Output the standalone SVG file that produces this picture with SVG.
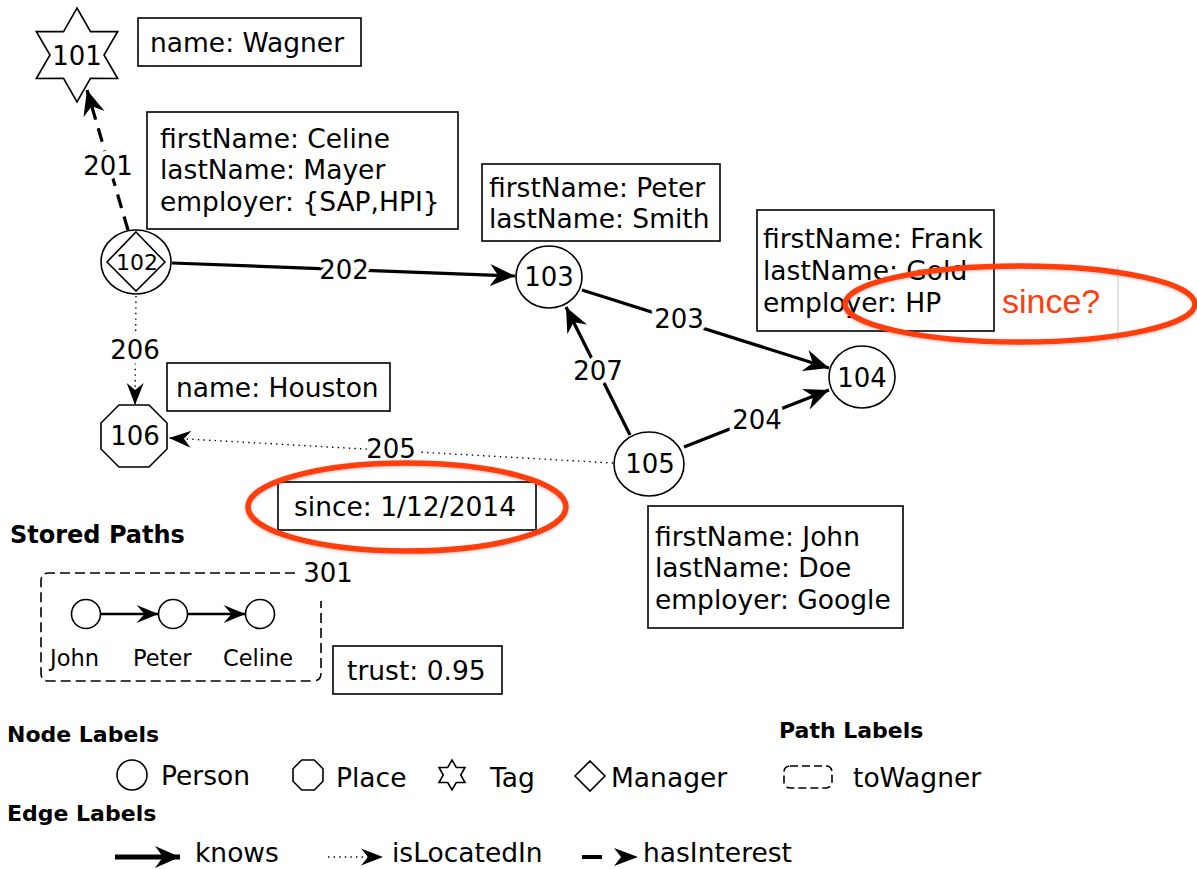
<svg xmlns="http://www.w3.org/2000/svg" width="1197" height="869" viewBox="0 0 1197 869">
  <style>
    text { font-family: "DejaVu Sans", sans-serif; fill: #000; }
    .prop { font-size: 26.5px; }
    .nid { font-size: 26px; text-anchor: middle; }
    .elab { font-size: 26px; text-anchor: middle; stroke: #fff; stroke-width: 9px; paint-order: stroke; stroke-linejoin: round; }
    .hdr { font-size: 22px; font-weight: bold; }
    .box { fill: #fff; stroke: #000; stroke-width: 1.6; }
    .node { fill: #fff; stroke: #000; stroke-width: 1.6; }
    .knows { fill: none; stroke: #000; stroke-width: 3.2; marker-end: url(#head); }
    .loc { fill: none; stroke: #000; stroke-width: 1.4; stroke-dasharray: 1.4 4.2; marker-end: url(#headSmall); }
    .interest { fill: none; stroke: #000; stroke-width: 3.2; stroke-dasharray: 14 9; marker-end: url(#head); }
    .mark { fill: none; stroke: #FF3D0D; stroke-width: 5.5; filter: url(#soft); }
  </style>
  <defs>
    <marker id="head" markerUnits="userSpaceOnUse" markerWidth="26" markerHeight="24" viewBox="-25 -12 26 24" refX="0" refY="0" orient="auto">
      <path d="M0,0 L-25,-11 L-17,0 L-25,11 Z" fill="#000"/>
    </marker>
    <marker id="headSmall" markerUnits="userSpaceOnUse" markerWidth="24" markerHeight="20" viewBox="-23 -10 24 20" refX="0" refY="0" orient="auto">
      <path d="M0,0 L-22,-8.5 L-15,0 L-22,8.5 Z" fill="#000"/>
    </marker>
    <marker id="headPath" markerUnits="userSpaceOnUse" markerWidth="24" markerHeight="20" viewBox="-23 -10 24 20" refX="0" refY="0" orient="auto">
      <path d="M0,0 L-22,-9 L-14,0 L-22,9 Z" fill="#000"/>
    </marker>
    <filter id="soft" x="-10%" y="-20%" width="120%" height="140%">
      <feDropShadow dx="0" dy="1" stdDeviation="1.5" flood-color="#000" flood-opacity="0.25"/>
    </filter>
  </defs>

  <!-- edges -->
  <g id="connectors">
    <line class="interest" x1="128" y1="230" x2="87" y2="90"/>
    <line class="knows" x1="172" y1="263" x2="515" y2="276"/>
    <line class="knows" x1="582" y1="290" x2="829" y2="368"/>
    <line class="knows" x1="684" y1="447" x2="829" y2="390"/>
    <line class="knows" x1="630" y1="435" x2="566" y2="307"/>
    <line class="loc" x1="613" y1="463" x2="169" y2="438"/>
    <line class="loc" x1="136" y1="296" x2="135" y2="405"/>
    <text class="elab" x="108" y="175">201</text>
    <text class="elab" x="344" y="279">202</text>
    <text class="elab" x="679" y="328">203</text>
    <text class="elab" x="757" y="429">204</text>
    <text class="elab" x="391" y="458">205</text>
    <text class="elab" x="135" y="359">206</text>
    <text class="elab" x="598" y="380">207</text>
  </g>

  <!-- nodes -->
  <g id="n101">
    <path class="node" d="M77,8 L90.5,31.6 L117.7,31.5 L104,55 L117.7,78.5 L90.5,78.4 L77,102 L63.5,78.4 L36.3,78.5 L50,55 L36.3,31.5 L63.5,31.6 Z"/>
    <text class="nid" x="77" y="65">101</text>
  </g>
  <g id="n102">
    <ellipse class="node" cx="136" cy="262" rx="35" ry="32"/>
    <path class="node" d="M136,232 L165,262 L136,291 L107,262 Z"/>
    <text class="nid" x="137" y="270" style="font-size:22px">102</text>
  </g>
  <g id="n103">
    <ellipse class="node" cx="549" cy="277" rx="33" ry="31"/>
    <text class="nid" x="549" y="286">103</text>
  </g>
  <g id="n104">
    <ellipse class="node" cx="862" cy="377" rx="33" ry="31"/>
    <text class="nid" x="862" y="387">104</text>
  </g>
  <g id="n105">
    <ellipse class="node" cx="649" cy="464" rx="35" ry="32"/>
    <text class="nid" x="650" y="473">105</text>
  </g>
  <g id="n106">
    <path class="node" d="M119,405 L149,405 L167,423 L167,449 L149,467 L119,467 L101,449 L101,423 Z"/>
    <text class="nid" x="135" y="445">106</text>
  </g>

  <!-- property boxes -->
  <g id="p101">
    <rect class="box" x="138" y="18" width="223" height="48"/>
    <text class="prop" x="150" y="52">name: Wagner</text>
  </g>
  <g id="p102">
    <rect class="box" x="147" y="112" width="311" height="117"/>
    <text class="prop" x="160" y="148">firstName: Celine</text>
    <text class="prop" x="160" y="179">lastName: Mayer</text>
    <text class="prop" x="160" y="211">employer: {SAP,HPI}</text>
  </g>
  <g id="p103">
    <rect class="box" x="482" y="164" width="238" height="77"/>
    <text class="prop" x="489" y="197">firstName: Peter</text>
    <text class="prop" x="489" y="228">lastName: Smith</text>
  </g>
  <g id="p104">
    <rect class="box" x="757" y="210" width="237" height="121"/>
    <text class="prop" x="763" y="248">firstName: Frank</text>
    <text class="prop" x="763" y="280">lastName: Gold</text>
    <text class="prop" x="763" y="312">employer: HP</text>
  </g>
  <g id="p105">
    <rect class="box" x="648" y="506" width="255" height="122"/>
    <text class="prop" x="655" y="546">firstName: John</text>
    <text class="prop" x="655" y="577">lastName: Doe</text>
    <text class="prop" x="655" y="609">employer: Google</text>
  </g>
  <g id="p106">
    <rect class="box" x="167" y="363" width="223" height="48"/>
    <text class="prop" x="176" y="397">name: Houston</text>
  </g>
  <g id="p205">
    <rect class="box" x="278" y="482" width="258" height="48"/>
    <text class="prop" x="294" y="516">since: 1/12/2014</text>
  </g>

  <!-- highlight marks -->
  <g id="marks">
    <ellipse class="mark" cx="407" cy="507" rx="159" ry="44"/>
    <line x1="1118" y1="265" x2="1118" y2="343" stroke="#c8c8c8" stroke-width="1"/>
    <ellipse class="mark" cx="1020" cy="304" rx="175" ry="38"/>
    <text x="1002" y="313" style="font-family:'Liberation Sans',Arial,sans-serif;font-size:34px;fill:#FF3D0D">since?</text>
  </g>

  <!-- stored path 301 -->
  <g id="path301">
    <text x="10" y="543" style="font-size:24px;font-weight:bold">Stored Paths</text>
    <path d="M295,573 L49,573 Q41,573 41,581 L41,673 Q41,681 49,681 L313,681 Q321,681 321,673 L321,601" fill="none" stroke="#000" stroke-width="1.6" stroke-dasharray="10 5"/>
    <text class="nid" x="328" y="582">301</text>
    <circle class="node" cx="86" cy="614" r="14.5"/>
    <circle class="node" cx="173" cy="614" r="14.5"/>
    <circle class="node" cx="260" cy="614" r="14.5"/>
    <line x1="100.5" y1="614" x2="158.5" y2="614" stroke="#000" stroke-width="2.6" marker-end="url(#headPath)"/>
    <line x1="187.5" y1="614" x2="245.5" y2="614" stroke="#000" stroke-width="2.6" marker-end="url(#headPath)"/>
    <text x="50" y="666" style="font-size:22.5px">John</text>
    <text x="133" y="666" style="font-size:22.5px">Peter</text>
    <text x="223" y="666" style="font-size:22.5px">Celine</text>
    <rect class="box" x="333" y="646" width="169" height="48"/>
    <text class="prop" x="347" y="680">trust: 0.95</text>
  </g>

  <!-- legend -->
  <g id="legend">
    <text class="hdr" x="7" y="742">Node Labels</text>
    <circle class="node" cx="132" cy="775" r="15"/>
    <text class="prop" x="161" y="785">Person</text>
    <path class="node" d="M301.8,760 L314.2,760 L323,768.8 L323,781.2 L314.2,790 L301.8,790 L293,781.2 L293,768.8 Z"/>
    <text class="prop" x="336" y="787">Place</text>
    <path class="node" d="M452,760 L456.3,767.5 L465,767.5 L460.7,775 L465,782.5 L456.3,782.5 L452,790 L447.7,782.5 L439,782.5 L443.3,775 L439,767.5 L447.7,767.5 Z"/>
    <text class="prop" x="490" y="787">Tag</text>
    <path class="node" d="M590,761 L605,776 L590,791 L575,776 Z"/>
    <text class="prop" x="611" y="787">Manager</text>
    <text class="hdr" x="779" y="738">Path Labels</text>
    <rect x="784" y="766" width="48" height="22" rx="6" fill="none" stroke="#000" stroke-width="1.6" stroke-dasharray="8 4"/>
    <text class="prop" x="853" y="787">toWagner</text>
    <text class="hdr" x="7" y="821">Edge Labels</text>
    <line x1="115" y1="857" x2="180" y2="857" stroke="#000" stroke-width="5" marker-end="url(#head)"/>
    <text class="prop" x="195" y="862">knows</text>
    <line x1="328" y1="857" x2="383" y2="857" stroke="#000" stroke-width="1.4" stroke-dasharray="1.4 4.2" marker-end="url(#headSmall)"/>
    <text class="prop" x="392" y="862">isLocatedIn</text>
    <line x1="582" y1="857" x2="602" y2="857" stroke="#000" stroke-width="4"/>
    <path d="M638,857 L614,848 L621,857 L614,866 Z" fill="#000"/>
    <text class="prop" x="643" y="862">hasInterest</text>
  </g>
</svg>
